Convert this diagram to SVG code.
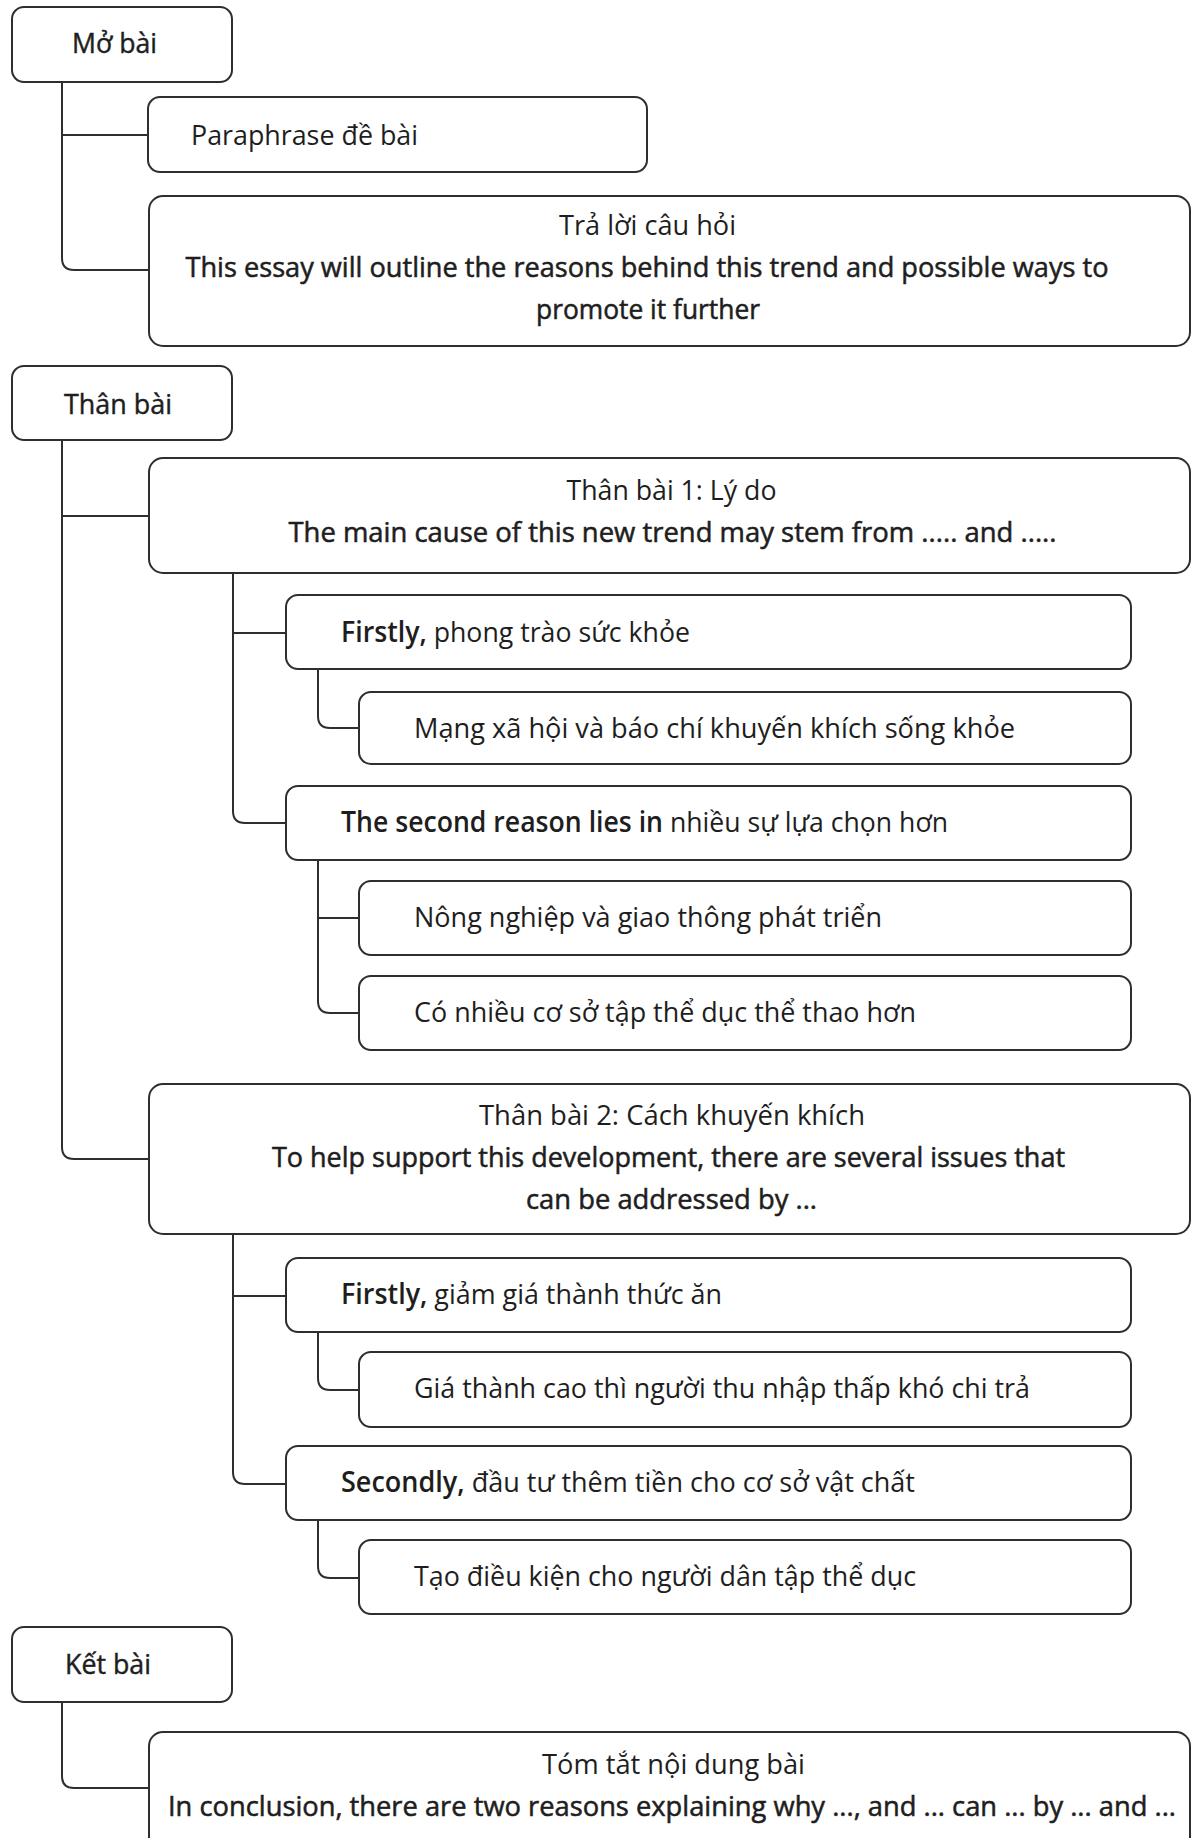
<svg xmlns="http://www.w3.org/2000/svg" width="1192" height="1838" viewBox="0 0 1192 1838">
<style>
.box{fill:#fff;stroke:#2e2e2e;stroke-width:2}
.conn{fill:none;stroke:#2e2e2e;stroke-width:2}
text{font-family:"Open Sans","Noto Sans","DejaVu Sans",sans-serif;font-size:28px;fill:#1e1e1e;font-weight:400}
.c{text-anchor:middle}
.en{stroke:#1e1e1e;stroke-width:0.55}
.lbl{stroke:#1e1e1e;stroke-width:0.45}
.b{font-weight:600}
</style>
<rect width="1192" height="1838" fill="#fff"/>
<g id="connectors">
<path class="conn" d="M62 82 V258 Q62 270 74 270 H149"/>
<path class="conn" d="M62 135 H148"/>
<path class="conn" d="M62 440 V1147 Q62 1159 74 1159 H149"/>
<path class="conn" d="M62 516 H149"/>
<path class="conn" d="M233 573 V811 Q233 823 245 823 H286"/>
<path class="conn" d="M233 633 H286"/>
<path class="conn" d="M318 669 V716 Q318 728 330 728 H359"/>
<path class="conn" d="M318 860 V1001 Q318 1013 330 1013 H359"/>
<path class="conn" d="M318 918 H359"/>
<path class="conn" d="M233 1234 V1472 Q233 1484 245 1484 H286"/>
<path class="conn" d="M233 1296 H286"/>
<path class="conn" d="M318 1332 V1378 Q318 1390 330 1390 H359"/>
<path class="conn" d="M318 1520 V1566 Q318 1578 330 1578 H359"/>
<path class="conn" d="M62 1702 V1776 Q62 1788 74 1788 H149"/>
</g>
<g id="mo-bai">
<rect class="box" x="12" y="7" width="220" height="75" rx="12"/>
<text class="c lbl" x="114.5" y="53" textLength="85" lengthAdjust="spacingAndGlyphs">Mở bài</text>
</g>
<g id="paraphrase">
<rect class="box" x="148" y="97" width="499" height="75" rx="12"/>
<text x="191" y="145" textLength="227" lengthAdjust="spacingAndGlyphs">Paraphrase đề bài</text>
</g>
<g id="tra-loi">
<rect class="box" x="149" y="196" width="1041" height="150" rx="14"/>
<text class="c" x="647.5" y="235" textLength="177" lengthAdjust="spacingAndGlyphs">Trả lời câu hỏi</text>
<text class="c en" x="647" y="277" textLength="923" lengthAdjust="spacingAndGlyphs">This essay will outline the reasons behind this trend and possible ways to</text>
<text class="c en" x="648" y="319" textLength="224" lengthAdjust="spacingAndGlyphs">promote it further</text>
</g>
<g id="than-bai">
<rect class="box" x="12" y="366" width="220" height="74" rx="12"/>
<text class="c lbl" x="118" y="414" textLength="108" lengthAdjust="spacingAndGlyphs">Thân bài</text>
</g>
<g id="than-bai-1">
<rect class="box" x="149" y="458" width="1041" height="115" rx="14"/>
<text class="c" x="671.5" y="500" textLength="210" lengthAdjust="spacingAndGlyphs">Thân bài 1: Lý do</text>
<text class="c en" x="672.5" y="542" textLength="768" lengthAdjust="spacingAndGlyphs">The main cause of this new trend may stem from ..... and .....</text>
</g>
<g id="firstly-1">
<rect class="box" x="286" y="595" width="845" height="74" rx="12"/>
<text x="341" y="642" textLength="349" lengthAdjust="spacingAndGlyphs"><tspan class="b">Firstly,</tspan> phong trào sức khỏe</text>
</g>
<g id="mang-xa-hoi">
<rect class="box" x="359" y="692" width="772" height="72" rx="12"/>
<text x="414" y="738" textLength="601" lengthAdjust="spacingAndGlyphs">Mạng xã hội và báo chí khuyến khích sống khỏe</text>
</g>
<g id="second-reason">
<rect class="box" x="286" y="786" width="845" height="74" rx="12"/>
<text x="341" y="832" textLength="607" lengthAdjust="spacingAndGlyphs"><tspan class="b">The second reason lies in</tspan> nhiều sự lựa chọn hơn</text>
</g>
<g id="nong-nghiep">
<rect class="box" x="359" y="881" width="772" height="74" rx="12"/>
<text x="414" y="927" textLength="468" lengthAdjust="spacingAndGlyphs">Nông nghiệp và giao thông phát triển</text>
</g>
<g id="co-nhieu">
<rect class="box" x="359" y="976" width="772" height="74" rx="12"/>
<text x="414" y="1022" textLength="502" lengthAdjust="spacingAndGlyphs">Có nhiều cơ sở tập thể dục thể thao hơn</text>
</g>
<g id="than-bai-2">
<rect class="box" x="149" y="1084" width="1041" height="150" rx="14"/>
<text class="c" x="672" y="1125" textLength="386" lengthAdjust="spacingAndGlyphs">Thân bài 2: Cách khuyến khích</text>
<text class="c en" x="668.5" y="1167" textLength="793" lengthAdjust="spacingAndGlyphs">To help support this development, there are several issues that</text>
<text class="c en" x="671.5" y="1209" textLength="291" lengthAdjust="spacingAndGlyphs">can be addressed by ...</text>
</g>
<g id="firstly-2">
<rect class="box" x="286" y="1258" width="845" height="74" rx="12"/>
<text x="341" y="1304" textLength="381" lengthAdjust="spacingAndGlyphs"><tspan class="b">Firstly,</tspan> giảm giá thành thức ăn</text>
</g>
<g id="gia-thanh">
<rect class="box" x="359" y="1352" width="772" height="75" rx="12"/>
<text x="414" y="1398" textLength="616" lengthAdjust="spacingAndGlyphs">Giá thành cao thì người thu nhập thấp khó chi trả</text>
</g>
<g id="secondly">
<rect class="box" x="286" y="1446" width="845" height="74" rx="12"/>
<text x="341" y="1492" textLength="574" lengthAdjust="spacingAndGlyphs"><tspan class="b">Secondly,</tspan> đầu tư thêm tiền cho cơ sở vật chất</text>
</g>
<g id="tao-dieu-kien">
<rect class="box" x="359" y="1540" width="772" height="74" rx="12"/>
<text x="414" y="1586" textLength="502" lengthAdjust="spacingAndGlyphs">Tạo điều kiện cho người dân tập thể dục</text>
</g>
<g id="ket-bai">
<rect class="box" x="12" y="1627" width="220" height="75" rx="12"/>
<text class="c lbl" x="108" y="1674" textLength="86" lengthAdjust="spacingAndGlyphs">Kết bài</text>
</g>
<g id="tom-tat">
<rect class="box" x="149" y="1732" width="1041" height="140" rx="14"/>
<text class="c" x="673.5" y="1774" textLength="263" lengthAdjust="spacingAndGlyphs">Tóm tắt nội dung bài</text>
<text class="c en" x="672" y="1816" textLength="1008" lengthAdjust="spacingAndGlyphs">In conclusion, there are two reasons explaining why ..., and ... can ... by ... and ...</text>
</g>
</svg>
